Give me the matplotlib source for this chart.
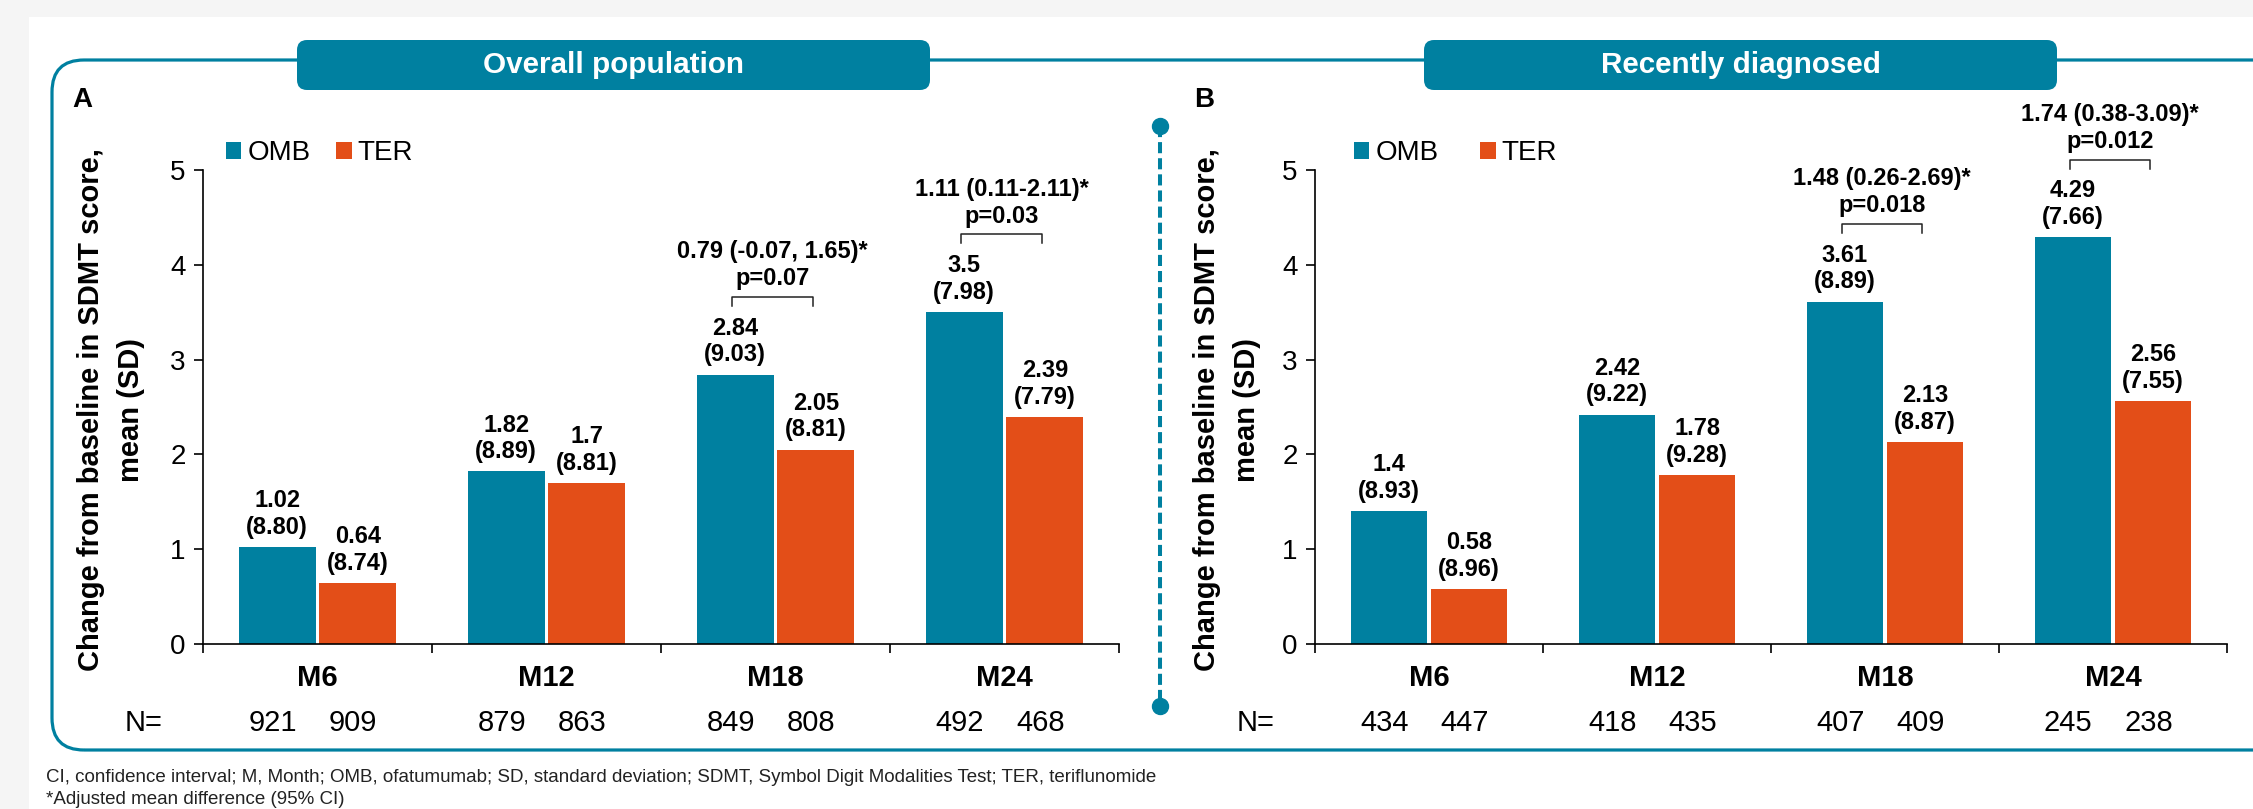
import matplotlib
matplotlib.use("Agg")
import matplotlib.pyplot as plt
from matplotlib.patches import FancyBboxPatch, Rectangle
from matplotlib.lines import Line2D
from matplotlib.transforms import IdentityTransform

plt.rcParams['font.family'] = ['Liberation Sans', 'DejaVu Sans']
plt.rcParams['lines.scale_dashes'] = False

# data
months = ["M6", "M12", "M18", "M24"]

a_omb = [1.02, 1.82, 2.84, 3.5]
a_omb_txt = ["1.02", "1.82", "2.84", "3.5"]
a_omb_sd = ["8.80", "8.89", "9.03", "7.98"]
a_ter = [0.64, 1.7, 2.05, 2.39]
a_ter_txt = ["0.64", "1.7", "2.05", "2.39"]
a_ter_sd = ["8.74", "8.81", "8.81", "7.79"]
a_n_omb = [921, 879, 849, 492]
a_n_ter = [909, 863, 808, 468]
a_diff = {2: ("0.79 (-0.07, 1.65)*", "p=0.07"), 3: ("1.11 (0.11-2.11)*", "p=0.03")}

b_omb = [1.4, 2.42, 3.61, 4.29]
b_omb_txt = ["1.4", "2.42", "3.61", "4.29"]
b_omb_sd = ["8.93", "9.22", "8.89", "7.66"]
b_ter = [0.58, 1.78, 2.13, 2.56]
b_ter_txt = ["0.58", "1.78", "2.13", "2.56"]
b_ter_sd = ["8.96", "9.28", "8.87", "7.55"]
b_n_omb = [434, 418, 407, 245]
b_n_ter = [447, 435, 409, 238]
b_diff = {2: ("1.48 (0.26-2.69)*", "p=0.018"), 3: ("1.74 (0.38-3.09)*", "p=0.012")}

TEAL = '#0080A0'
ORANGE = '#E34E18'
W, H = 2253, 809

fig = plt.figure(figsize=(W / 100, H / 100), dpi=100)
fig.patch.set_facecolor('#F5F5F5')

# white page + frame (pixel coords, origin bottom-left)
fig.patches.append(Rectangle((29, 0), W, H - 17, transform=IdentityTransform(),
                             facecolor='white', edgecolor='none', zorder=-10))
fig.patches.append(FancyBboxPatch((52, H - 750), 2400, 690,
                                  boxstyle="round,pad=0,rounding_size=32",
                                  transform=IdentityTransform(), facecolor='none',
                                  edgecolor=TEAL, linewidth=2.3, zorder=1))

def title_box(x0, x1, text):
    fig.patches.append(FancyBboxPatch((x0, H - 90), x1 - x0, 50,
                                      boxstyle="round,pad=0,rounding_size=10",
                                      transform=IdentityTransform(), facecolor=TEAL,
                                      edgecolor='none', zorder=2))
    fig.text((x0 + x1) / 2 / W, (H - 65) / H, text, color='white', fontsize=21.3,
             fontweight='bold', ha='center', va='center', zorder=3)

title_box(297, 930, "Overall population")
title_box(1424, 2057, "Recently diagnosed")

# divider
fig.lines.append(Line2D([1160, 1160], [H - 126, H - 706], transform=IdentityTransform(),
                        color=TEAL, linewidth=2.9, dashes=(8, 3.6)))
fig.lines.append(Line2D([1160, 1160], [H - 126, H - 706], transform=IdentityTransform(),
                        color=TEAL, linestyle='none', marker='o', markersize=11.5))


def panel(x0, x1, letter, letter_x, omb, omb_txt, omb_sd, ter, ter_txt, ter_sd, n_omb, n_ter,
          diffs, leg_x, colsp, ylab_x):
    ax = fig.add_axes([x0 / W, 165 / H, (x1 - x0) / W, 474 / H])
    ax.patch.set_alpha(0)
    ax.set_xlim(0, 4)
    ax.set_ylim(0, 5)
    xs = [i + 0.5 for i in range(4)]
    off, bw = 0.176, 0.335
    b1 = ax.bar([x - off for x in xs], omb, bw, color=TEAL, label='OMB')
    b2 = ax.bar([x + off for x in xs], ter, bw, color=ORANGE, label='TER')

    for i in range(4):
        ax.annotate(omb_txt[i] + "\n(" + omb_sd[i] + ")", (xs[i] - off, omb[i]),
                    xytext=(0, 6), textcoords='offset points', ha='center', va='bottom',
                    fontsize=17, fontweight='bold')
        ax.annotate(ter_txt[i] + "\n(" + ter_sd[i] + ")", (xs[i] + off, ter[i]),
                    xytext=(0, 6), textcoords='offset points', ha='center', va='bottom',
                    fontsize=17, fontweight='bold')
        ax.text(xs[i], -0.072, months[i], transform=ax.get_xaxis_transform(),
                ha='center', va='center', fontsize=21, fontweight='bold')
        ax.text(xs[i] - off - 0.02, -0.167, str(n_omb[i]), transform=ax.get_xaxis_transform(),
                ha='center', va='center', fontsize=21)
        ax.text(xs[i] + off - 0.02, -0.167, str(n_ter[i]), transform=ax.get_xaxis_transform(),
                ha='center', va='center', fontsize=21)
    ax.text(-0.26, -0.167, "N=", transform=ax.get_xaxis_transform(),
            ha='center', va='center', fontsize=21)

    # adjusted mean difference brackets
    for i, (d, p) in diffs.items():
        yb = omb[i] + 0.82
        xl, xr = xs[i] - off - 0.012, xs[i] + off - 0.012
        ax.plot([xl, xl, xr, xr], [yb - 0.095, yb, yb, yb - 0.095], color='#222222',
                linewidth=1.1, clip_on=False)
        ax.annotate(d + "\n" + p, ((xl + xr) / 2, yb), xytext=(0, 5),
                    textcoords='offset points', ha='center', va='bottom',
                    fontsize=17, fontweight='bold', annotation_clip=False)

    for s in ['top', 'right']:
        ax.spines[s].set_visible(False)
    for s in ['left', 'bottom']:
        ax.spines[s].set_linewidth(1.2)
    ax.set_xticks(range(5))
    ax.set_xticklabels([])
    ax.set_yticks(range(6))
    ax.tick_params(axis='x', length=6.5, width=1.2, direction='out')
    ax.tick_params(axis='y', length=6.5, width=1.2, direction='out', labelsize=20, pad=6)

    ax.legend(handles=[b1, b2], loc='center left', bbox_to_anchor=(leg_x, 1.035),
              ncol=2, frameon=False, fontsize=20, handlelength=0.55, handleheight=0.55,
              handletextpad=0.22, columnspacing=colsp, borderpad=0, borderaxespad=0)

    fig.text(ylab_x / W, (H - 410) / H, "Change from baseline in SDMT score,\nmean (SD)",
             rotation=90, ha='center', va='center', multialignment='center',
             fontsize=21, fontweight='bold', linespacing=1.55)
    fig.text(letter_x / W, (H - 100) / H, letter, fontsize=20, fontweight='bold',
             ha='center', va='center')
    return ax


panel(203, 1119, "A", 82, a_omb, a_omb_txt, a_omb_sd, a_ter, a_ter_txt, a_ter_sd,
      a_n_omb, a_n_ter, a_diff, 0.025, 0.93, 111)
panel(1315, 2227, "B", 1204, b_omb, b_omb_txt, b_omb_sd, b_ter, b_ter_txt, b_ter_sd,
      b_n_omb, b_n_ter, b_diff, 0.043, 1.5, 1227)

fig.text(46 / W, (H - 777) / H,
         "CI, confidence interval; M, Month; OMB, ofatumumab; SD, standard deviation; "
         "SDMT, Symbol Digit Modalities Test; TER, teriflunomide",
         fontsize=13.5, ha='left', va='center', color='#222222')
fig.text(46 / W, (H - 800) / H, "*Adjusted mean difference (95% CI)",
         fontsize=13.5, ha='left', va='center', color='#222222')

fig.savefig("out.png", dpi=100, facecolor=fig.get_facecolor())
